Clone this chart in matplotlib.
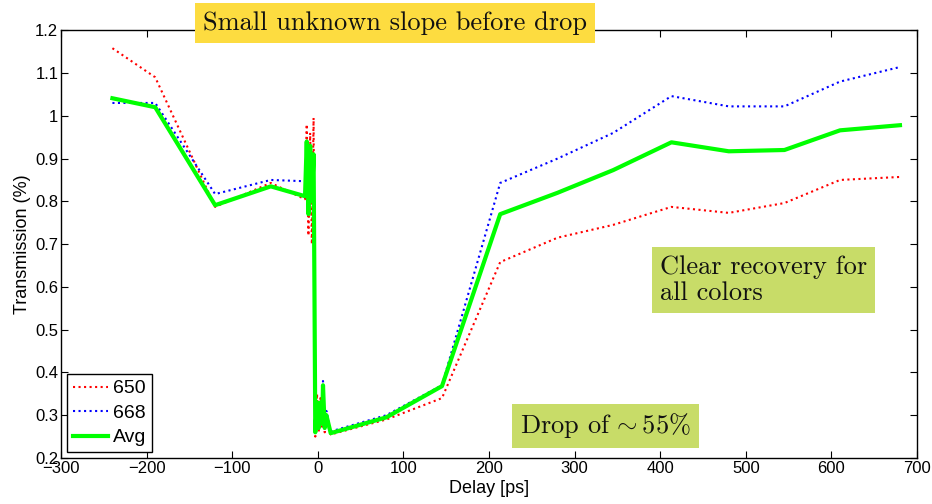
import matplotlib.pyplot as plt
import numpy as np

FIGSIZE = (9.32, 5.04)

# delay points in ps, dense sampling around time zero
delay = [-240, -190, -120, -55, -15, -13, -11, -9, -7, -5, -4, -3, -1, 1, 3, 5, 6, 8, 10, 15,
         80, 145, 213, 280, 345, 413, 480, 545, 610, 680]

trans_650 = [1.158, 1.09, 0.787, 0.843, 0.805, 0.98, 0.72, 0.96, 0.70, 0.995, 0.60, 0.25, 0.35,
             0.26, 0.34, 0.27, 0.36, 0.26, 0.29, 0.255,
             0.29, 0.34, 0.658, 0.715, 0.745, 0.787, 0.773, 0.796, 0.85, 0.857]

trans_668 = [1.03, 1.03, 0.817, 0.85, 0.847, 0.90, 0.82, 0.88, 0.85, 0.91, 0.60, 0.27, 0.32,
             0.28, 0.32, 0.29, 0.38, 0.28, 0.31, 0.262,
             0.30, 0.37, 0.843, 0.90, 0.96, 1.046, 1.022, 1.022, 1.08, 1.114]

trans_avg = [1.041, 1.02, 0.791, 0.835, 0.812, 0.94, 0.77, 0.93, 0.80, 0.91, 0.60, 0.26, 0.33,
             0.27, 0.33, 0.28, 0.37, 0.27, 0.30, 0.258,
             0.295, 0.368, 0.77, 0.82, 0.873, 0.938, 0.917, 0.920, 0.966, 0.978]

x_ticks = list(range(-300, 701, 100))
y_ticks = [0.2, 0.3, 0.4, 0.5, 0.6, 0.7, 0.8, 0.9, 1.0, 1.1, 1.2]
y_tick_labels = ["0.2", "0.3", "0.4", "0.5", "0.6", "0.7", "0.8", "0.9", "1", "1.1", "1.2"]

plt.rcParams['font.family'] = ['Liberation Sans', 'DejaVu Sans']
plt.rcParams['mathtext.fontset'] = 'cm'

fig = plt.figure(figsize=FIGSIZE, dpi=100)
ax = fig.add_axes([0.0655, 0.0913, 0.9185, 0.8487])

ax.plot(delay, trans_650, color=(1, 0, 0), linestyle=':', linewidth=1.5, label="650")
ax.plot(delay, trans_668, color=(0, 0, 1), linestyle=':', linewidth=1.5, label="668")
ax.plot(delay, trans_avg, color=(0, 1, 0), linestyle='-', linewidth=3, label="Avg")

ax.set_xlim(-300, 700)
ax.set_ylim(0.2, 1.2)
ax.set_xticks(x_ticks)
ax.set_yticks(y_ticks)
ax.set_yticklabels(y_tick_labels)
ax.tick_params(direction='in', top=True, right=True, labelsize=12, length=5, pad=2)
for sp in ax.spines.values():
    sp.set_linewidth(1.0)

ax.set_xlabel("Delay [ps]", fontsize=13, labelpad=3)
ax.set_ylabel("Transmission (%)", fontsize=13, labelpad=3)

leg = ax.legend(loc='lower left', fontsize=14, fancybox=False, framealpha=1,
                edgecolor='black', handlelength=1.8, borderpad=0.3, labelspacing=0.35,
                handletextpad=0.25, borderaxespad=0.3)
leg.get_frame().set_linewidth(1.0)

note_font = dict(family='cmr10', fontsize=19, color='#111111')
fig.text(0.4238, 0.954, "Small unknown slope before drop", ha='center', va='center',
         bbox=dict(boxstyle='square,pad=0.3', facecolor='#FDDC40', edgecolor='none'),
         **note_font)
fig.text(0.708, 0.4445, "Clear recovery for\nall colors", ha='left', va='center',
         linespacing=1.15,
         bbox=dict(boxstyle='square,pad=0.3', facecolor='#C8DC68', edgecolor='none'),
         **note_font)
fig.text(0.6497, 0.1548, r"Drop of${\,\sim}$55%", ha='center', va='center',
         bbox=dict(boxstyle='square,pad=0.3', facecolor='#C8DC68', edgecolor='none'),
         **note_font)

plt.savefig("out.png", dpi=100)
plt.close()
